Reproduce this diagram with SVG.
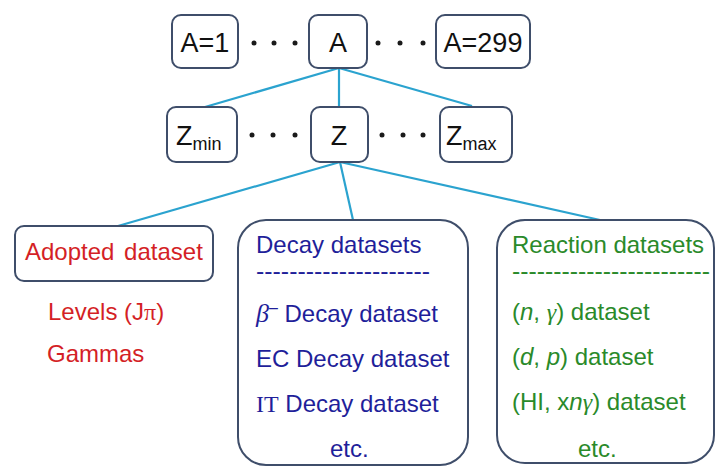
<svg xmlns="http://www.w3.org/2000/svg" width="717" height="467" viewBox="0 0 717 467">
  <style>
    .box { fill: #ffffff; stroke: #3f4e6a; stroke-width: 2; }
    .link { stroke: #2ba3cf; stroke-width: 2.2; fill: none; }
    .dot { fill: #1a1a1a; }
    .lbl { font-family: "Liberation Sans", Arial, sans-serif; fill: #111111; }
    .big { font-size: 27px; }
    .sub { font-size: 18px; }
    .t { font-family: "Liberation Sans", Arial, sans-serif; font-size: 24px; }
    .red { fill: #d41f26; }
    .blue { fill: #1f1f9a; }
    .green { fill: #2a8a2a; }
    .serif { font-family: "Liberation Serif", "Times New Roman", serif; }
  </style>

  <!-- connectors -->
  <g id="connectors">
    <line class="link" x1="339" y1="68" x2="205" y2="107"/>
    <line class="link" x1="339" y1="68" x2="339" y2="107"/>
    <line class="link" x1="339" y1="68" x2="472" y2="106"/>
    <line class="link" x1="340" y1="162" x2="118" y2="226"/>
    <line class="link" x1="340" y1="162" x2="353" y2="220"/>
    <line class="link" x1="340" y1="162" x2="600" y2="220"/>
  </g>

  <!-- mass number row -->
  <g id="a-first">
    <rect class="box" x="172" y="15" width="66" height="53" rx="9"/>
    <text class="lbl big" x="205" y="52" text-anchor="middle">A=1</text>
  </g>
  <g id="a-dots-left">
    <circle class="dot" cx="254" cy="43" r="2.5"/>
    <circle class="dot" cx="274" cy="43" r="2.5"/>
    <circle class="dot" cx="295" cy="43" r="2.5"/>
  </g>
  <g id="a-node">
    <rect class="box" x="309" y="15" width="58" height="53" rx="9"/>
    <text class="lbl big" x="338" y="52" text-anchor="middle">A</text>
  </g>
  <g id="a-dots-right">
    <circle class="dot" cx="378" cy="43" r="2.5"/>
    <circle class="dot" cx="400" cy="43" r="2.5"/>
    <circle class="dot" cx="423" cy="43" r="2.5"/>
  </g>
  <g id="a-last">
    <rect class="box" x="436" y="15" width="94" height="53" rx="9"/>
    <text class="lbl big" x="483" y="52" text-anchor="middle">A=299</text>
  </g>

  <!-- atomic number row -->
  <g id="z-min">
    <rect class="box" x="167" y="107" width="70" height="55" rx="9"/>
    <text class="lbl" x="176" y="145"><tspan class="big">Z</tspan><tspan class="sub" dy="5">min</tspan></text>
  </g>
  <g id="z-dots-left">
    <circle class="dot" cx="252" cy="135" r="2.5"/>
    <circle class="dot" cx="273" cy="135" r="2.5"/>
    <circle class="dot" cx="295" cy="135" r="2.5"/>
  </g>
  <g id="z-node">
    <rect class="box" x="311" y="107" width="57" height="55" rx="9"/>
    <text class="lbl big" x="339" y="145" text-anchor="middle">Z</text>
  </g>
  <g id="z-dots-right">
    <circle class="dot" cx="382" cy="135" r="2.5"/>
    <circle class="dot" cx="403" cy="135" r="2.5"/>
    <circle class="dot" cx="423" cy="135" r="2.5"/>
  </g>
  <g id="z-max">
    <rect class="box" x="440" y="107" width="72" height="55" rx="9"/>
    <text class="lbl" x="446" y="145"><tspan class="big">Z</tspan><tspan class="sub" dy="5">max</tspan></text>
  </g>

  <!-- adopted dataset -->
  <g id="adopted">
    <rect class="box" x="15" y="226" width="198" height="55" rx="9"/>
    <text class="t red" x="25" y="260" word-spacing="3">Adopted dataset</text>
    <text class="t red" x="48" y="320">Levels (J<tspan class="serif">π</tspan>)</text>
    <text class="t red" x="47" y="362">Gammas</text>
  </g>

  <!-- decay datasets -->
  <g id="decay">
    <rect class="box" x="238" y="220" width="230" height="245" rx="28"/>
    <text class="t blue" x="256" y="253">Decay datasets</text>
    <text class="t blue" x="256" y="279" textLength="174" lengthAdjust="spacingAndGlyphs">---------------------</text>
    <text class="t blue" x="256" y="322"><tspan class="serif" font-style="italic" font-size="26">β</tspan><tspan font-size="16" dy="-9">–</tspan><tspan dy="9"> Decay dataset</tspan></text>
    <text class="t blue" x="256" y="367">EC Decay dataset</text>
    <text class="t blue" x="256" y="412"><tspan class="serif">IT</tspan> Decay dataset</text>
    <text class="t blue" x="330" y="457">etc.</text>
  </g>

  <!-- reaction datasets -->
  <g id="reaction">
    <rect class="box" x="497" y="220" width="217" height="243" rx="28"/>
    <text class="t green" x="512" y="253">Reaction datasets</text>
    <text class="t green" x="512" y="279" textLength="198" lengthAdjust="spacingAndGlyphs">------------------------</text>
    <text class="t green" x="512" y="320">(<tspan font-style="italic">n</tspan>, <tspan class="serif" font-style="italic">γ</tspan>) dataset</text>
    <text class="t green" x="512" y="365">(<tspan font-style="italic">d</tspan>, <tspan font-style="italic">p</tspan>) dataset</text>
    <text class="t green" x="512" y="410">(HI, x<tspan font-style="italic">n</tspan><tspan class="serif" font-style="italic">γ</tspan>) dataset</text>
    <text class="t green" x="578" y="457">etc.</text>
  </g>
</svg>
